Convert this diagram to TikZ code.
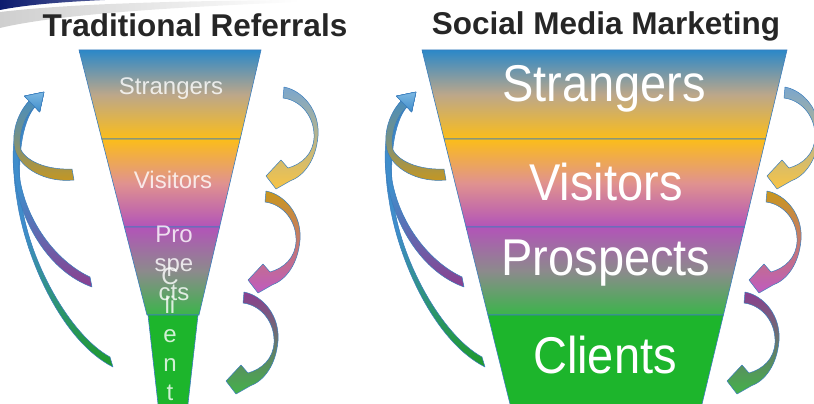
\documentclass[tikz,border=0pt]{standalone}
\usepackage{fontspec}
\usepackage{graphicx}
\setmainfont{Liberation Sans}

\definecolor{edgeblue}{HTML}{3A7DBD}
\definecolor{funnelblue}{HTML}{2B88C8}
\definecolor{funneltan}{HTML}{BCA78A}
\definecolor{funnelamber}{HTML}{FBBD1A}
\definecolor{funnelsalmon}{HTML}{E0928F}
\definecolor{funnelviolet}{HTML}{B254B8}
\definecolor{funnelgray}{HTML}{8C8A8C}
\definecolor{funnelgreen}{HTML}{3BB54A}
\definecolor{clientgreen}{HTML}{1DB52C}
\definecolor{arrowblue}{HTML}{3F8DCB}
\definecolor{headblue}{HTML}{7DB8E2}
\definecolor{tailblue}{HTML}{7AA6CE}
\definecolor{gold}{HTML}{C9971C}
\definecolor{plum}{HTML}{8B3F8F}
\definecolor{leaf}{HTML}{1F9A2A}
\definecolor{sun}{HTML}{F8C445}
\definecolor{orchid}{HTML}{BF5BC0}
\definecolor{lime}{HTML}{44B14A}
\definecolor{titlegray}{HTML}{262626}
\definecolor{navy}{HTML}{0C1B6E}
\definecolor{swooshgray}{HTML}{CFCFCF}

\newcommand{\tall}[1]{\scalebox{1}[1.1]{#1}}

\begin{document}
\begin{tikzpicture}[x=1pt,y=-1pt]
	\tikzset{band/.style = {draw=edgeblue, line width=.6pt}}
	\tikzset{ribbon/.style = {draw=edgeblue, line width=.5pt, line join=round}}
	\tikzset{title/.style = {font=\fontsize{31.5}{31.5}\selectfont\bfseries, text=titlegray, anchor=base, inner sep=0pt}}
	\tikzset{biglabel/.style = {font=\fontsize{47}{47}\selectfont, text=white, anchor=base, inner sep=0pt}}
	\tikzset{smalllabel/.style = {font=\fontsize{24}{29}\selectfont, text=white, text opacity=.8, align=center, inner sep=0pt}}
	\useasboundingbox (0,0) rectangle (814,404);
	\clip (0,0) rectangle (814,404);
	% Draw corner swoosh
	\shade[left color=swooshgray, right color=white] (0,12) .. controls (60,5) and (150,1) .. (300,0) -- (300,2) .. controls (150,8) and (50,16) .. (0,28) -- cycle;
	\shade[left color=navy, right color=navy!70!white] (0,0) -- (105,0) .. controls (60,2) and (25,5) .. (0,10) -- cycle;
	% Draw titles
	\node[title] (tradtitle) at (195,37) {Traditional Referrals};
	\node[title] (socialtitle) at (606,35) {Social Media Marketing};
	% Draw return arrows on the left of each funnel
	\foreach \dx in {0,372} {
		\draw[ribbon, top color=arrowblue, bottom color=leaf, middle color=arrowblue, shift={(\dx,0)}] (110,357) .. controls (70,335) and (30,262) .. (22,205) .. controls (16,160) and (22,122) .. (34.8,106.9) -- (39.7,111.9) -- (44,92) -- (24.3,96.1) -- (29.2,101.1) .. controls (14,118) and (10,160) .. (17,200) .. controls (25,255) and (60,340) .. (113,367) -- cycle;
		\draw[ribbon, top color=arrowblue, bottom color=plum, middle color=arrowblue, shift={(\dx,0)}] (90,277) .. controls (58,262) and (28,225) .. (20,180) .. controls (16,150) and (22,120) .. (34.8,106.9) -- (39.7,111.9) -- (44,92) -- (24.3,96.1) -- (29.2,101.1) .. controls (15,116) and (10,150) .. (15,180) .. controls (22,225) and (50,272) .. (92,287) -- cycle;
		\draw[ribbon, top color=arrowblue, bottom color=gold, middle color=arrowblue!60!gold, shift={(\dx,0)}] (72,169) .. controls (50,170) and (28,163) .. (21,150) .. controls (18,138) and (23,117) .. (34.8,106.9) -- (39.7,111.9) -- (44,92) -- (24.3,96.1) -- (29.2,101.1) .. controls (17,113) and (11,135) .. (15,150) .. controls (20,168) and (45,183) .. (74,180) -- cycle;
		\draw[ribbon, top color=headblue, bottom color=arrowblue, shift={(\dx,0)}] (34.8,106.9) -- (39.7,111.9) -- (44,92) -- (24.3,96.1) -- (29.2,101.1) -- cycle;
	}
	% Draw step arrows on the right of each funnel
	\foreach \dx in {0,501}
		\foreach \x/\y/\ca/\cb in {284/88/tailblue/sun, 266/192/gold/orchid, 244/293/plum/lime}
			\draw[ribbon, top color=\ca, bottom color=\cb, shift={(\x+\dx,\y)}] (0,-1) .. controls (20,3) and (36,24) .. (34,48) .. controls (32,72) and (20,88) .. (6,93) -- (-8,101) -- (-18,88) -- (-3,72) -- (4,80) .. controls (18,76) and (29,66) .. (30,50) .. controls (31,28) and (16,12) .. (-1,10) -- cycle;
	% Draw traditional funnel
	\draw[band, top color=funnelblue, bottom color=funnelamber, middle color=funneltan] (79,50) -- (261,50) -- (240.2,139) -- (101.8,139) -- cycle;
	\draw[band, top color=funnelamber, bottom color=funnelviolet, middle color=funnelsalmon] (101.8,139) -- (240.2,139) -- (219.6,227) -- (124.4,227) -- cycle;
	\draw[band, top color=funnelviolet, bottom color=funnelgreen, middle color=funnelgray] (124.4,227) -- (219.6,227) -- (199,315) -- (147,315) -- cycle;
	\draw[band, fill=clientgreen] (148,315) -- (198,315) -- (187.3,410) -- (158.7,410) -- cycle;
	\node[smalllabel, anchor=base] (tradstrangers) at (171,95) {Strangers};
	\node[smalllabel, anchor=base] (tradvisitors) at (173,188) {Visitors};
	\node[smalllabel, anchor=north] (tradprospects) at (174,226) {Pro\\spe\\cts};
	\node[smalllabel, anchor=north] (tradclients) at (170,268) {C\\li\\e\\n\\t};
	% Draw social media funnel
	\draw[band, top color=funnelblue, bottom color=funnelamber, middle color=funneltan] (422,50) -- (787,50) -- (765.6,139) -- (444.1,139) -- cycle;
	\draw[band, top color=funnelamber, bottom color=funnelviolet, middle color=funnelsalmon] (444.1,139) -- (765.6,139) -- (744.5,227) -- (466,227) -- cycle;
	\draw[band, top color=funnelviolet, bottom color=funnelgreen, middle color=funnelgray] (466,227) -- (744.5,227) -- (723.4,315) -- (487.9,315) -- cycle;
	\draw[band, fill=clientgreen] (487.9,315) -- (723.4,315) -- (700.6,410) -- (511.5,410) -- cycle;
	\node[biglabel] (socialstrangers) at (604,102) {\tall{Strangers}};
	\node[biglabel] (socialvisitors) at (606,200) {\tall{Visitors}};
	\node[biglabel] (socialprospects) at (606,275) {\tall{Prospects}};
	\node[biglabel] (socialclients) at (605,373) {\tall{Clients}};
\end{tikzpicture}
\end{document}
